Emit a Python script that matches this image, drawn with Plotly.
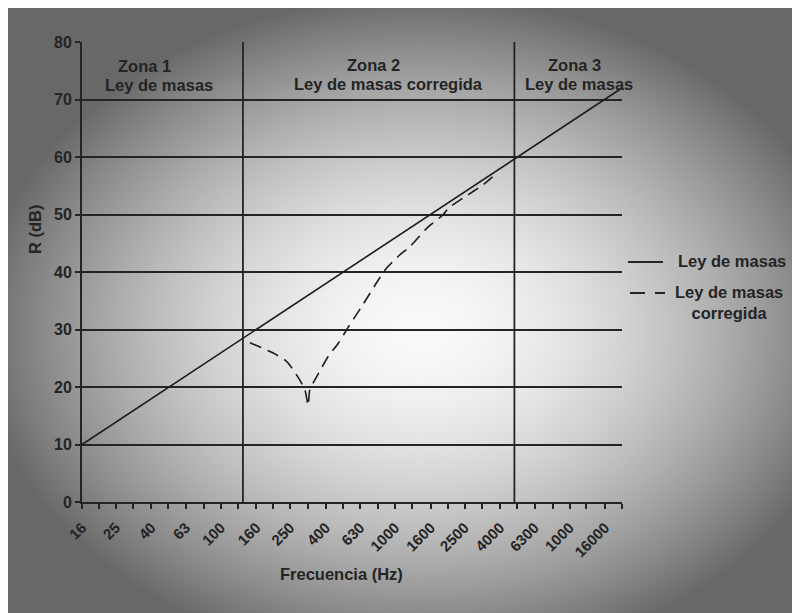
import base64
import struct
import zlib

import numpy as np
import plotly.graph_objects as go

# ---------------- data ----------------
band_freqs = [16, 20, 25, 31.5, 40, 50, 63, 80, 100, 125, 160, 200, 250, 315, 400, 500,
              630, 800, 1000, 1250, 1600, 2000, 2500, 3150, 4000, 5000, 6300, 8000,
              10000, 12500, 16000, 20000]
band_labels = ["16", "", "25", "", "40", "", "63", "", "100", "", "160", "", "250", "",
               "400", "", "630", "", "1000", "", "1600", "", "2500", "", "4000", "",
               "6300", "", "1000", "", "16000", ""]

# Ley de masas (straight line, 6 dB/octave)
mass_freq = [16, 20000]
mass_R = [10, 72]

# Ley de masas corregida
corr_freq = [147, 200, 233, 249, 284, 304, 317, 324, 355, 413, 472, 538, 643, 801,
             894, 1066, 1217, 1517, 1890, 2018, 2462, 3208, 3828]
corr_R = [27.7, 25.9, 24.7, 23.8, 21.2, 19.5, 16.8, 19.5, 21.8, 25.3, 27.6, 30.4,
          34.0, 38.6, 40.7, 43.0, 44.4, 47.6, 50.0, 51.1, 52.9, 55.2, 57.2]

# Zone boundaries (Hz)
zone_bounds = [134, 4830]
y_range = [0, 80]

# ---------------- layout geometry ----------------
OFF = 8  # page body margin
W, H = 800, 613
ML, MT = 74, 34
PW, PH = 540, 460
MR, MB = W - ML - PW, H - MT - PH

INK = "#242424"
FONT = "Liberation Sans, Arial, sans-serif"


def px_x(px):
    return (px - OFF - ML) / PW


def px_y(py):
    return (H - MB - (py - OFF)) / PH


# ---------------- background gradient (PNG) ----------------
def make_bg():
    yy, xx = np.mgrid[0:H, 0:W].astype(float)
    xx += OFF
    yy += OFF
    d = np.sqrt(((xx - 420) / 410.0) ** 2 + ((yy - 330) / 310.0) ** 2)
    v = 250 - 128 * d ** 1.7
    v = np.clip(v, 104, 250)
    img = v.astype(np.uint8)
    raw = b"".join(b"\x00" + img[r].tobytes() for r in range(H))

    def chunk(tag, data):
        c = struct.pack(">I", len(data)) + tag + data
        return c + struct.pack(">I", zlib.crc32(tag + data) & 0xFFFFFFFF)

    png = b"\x89PNG\r\n\x1a\n"
    png += chunk(b"IHDR", struct.pack(">IIBBBBB", W, H, 8, 0, 0, 0, 0))
    png += chunk(b"IDAT", zlib.compress(raw, 9))
    png += chunk(b"IEND", b"")
    return "data:image/png;base64," + base64.b64encode(png).decode()


fig = go.Figure()

# zone boundary lines
for zb in zone_bounds:
    fig.add_trace(go.Scatter(x=[zb, zb], y=y_range, mode="lines",
                             line=dict(color=INK, width=1.8),
                             showlegend=False, hoverinfo="skip"))

fig.add_trace(go.Scatter(x=mass_freq, y=mass_R, mode="lines", name="Ley de masas",
                         line=dict(color="#1c1c1c", width=1.6), showlegend=False))
fig.add_trace(go.Scatter(x=corr_freq, y=corr_R, mode="lines",
                         name="Ley de masas corregida",
                         line=dict(color="#1c1c1c", width=1.6, dash="12px,7px",
                                   shape="spline", smoothing=0.6),
                         showlegend=False))

tick_font = dict(family=FONT, size=15, color=INK, weight="bold")

fig.update_xaxes(type="log", range=[np.log10(16), np.log10(20000)],
                 tickmode="array", tickvals=band_freqs, ticktext=band_labels,
                 tickangle=-45, tickfont=tick_font, showgrid=False, zeroline=False,
                 showline=True, linecolor=INK, linewidth=2, ticklabelstandoff=4,
                 ticks="outside", ticklen=5, tickwidth=1.5, tickcolor=INK)
fig.update_yaxes(range=y_range, dtick=10, tick0=0,
                 tickfont=dict(family=FONT, size=16, color=INK, weight="bold"),
                 showgrid=True, gridcolor=INK, gridwidth=2, zeroline=False,
                 showline=True, linecolor=INK, linewidth=2,
                 ticks="outside", ticklen=5, tickwidth=1.5, tickcolor=INK)

text_font = dict(family=FONT, size=16.5, color=INK, weight="bold")
ann = []


def add_text(txt, px, py, xanchor="center", angle=0, align="center"):
    ann.append(dict(text=txt, x=px_x(px), y=px_y(py), xref="paper", yref="paper",
                    xanchor=xanchor, yanchor="middle", showarrow=False,
                    font=text_font, textangle=angle, align=align))


add_text("Zona 1", 144, 66)
add_text("Ley de masas", 159, 85)
add_text("Zona 2", 373, 65)
add_text("Ley de masas corregida", 388, 84)
add_text("Zona 3", 574, 65)
add_text("Ley de masas", 579, 84)
add_text("Frecuencia (Hz)", 341, 574)
add_text("R (dB)", 35, 230, angle=-90)

# manual legend
add_text("Ley de masas", 676, 261, xanchor="left")
add_text("Ley de masas<br>corregida", 729, 302)

shapes = [
    dict(type="line", xref="paper", yref="paper", x0=px_x(628), x1=px_x(663),
         y0=px_y(262), y1=px_y(262), line=dict(color=INK, width=1.8)),
    dict(type="line", xref="paper", yref="paper", x0=px_x(630), x1=px_x(665),
         y0=px_y(293), y1=px_y(293), line=dict(color=INK, width=1.8, dash="15px,10px")),
]

fig.update_layout(
    width=W, height=H,
    margin=dict(l=ML, r=MR, t=MT, b=MB),
    paper_bgcolor="#9a9a9a", plot_bgcolor="rgba(0,0,0,0)",
    annotations=ann, shapes=shapes, showlegend=False,
    images=[dict(source=make_bg(), xref="paper", yref="paper",
                 x=-ML / PW, y=1 + MT / PH, sizex=W / PW, sizey=H / PH,
                 xanchor="left", yanchor="top", sizing="stretch", layer="below")],
)

fig.write_html("out.html")
